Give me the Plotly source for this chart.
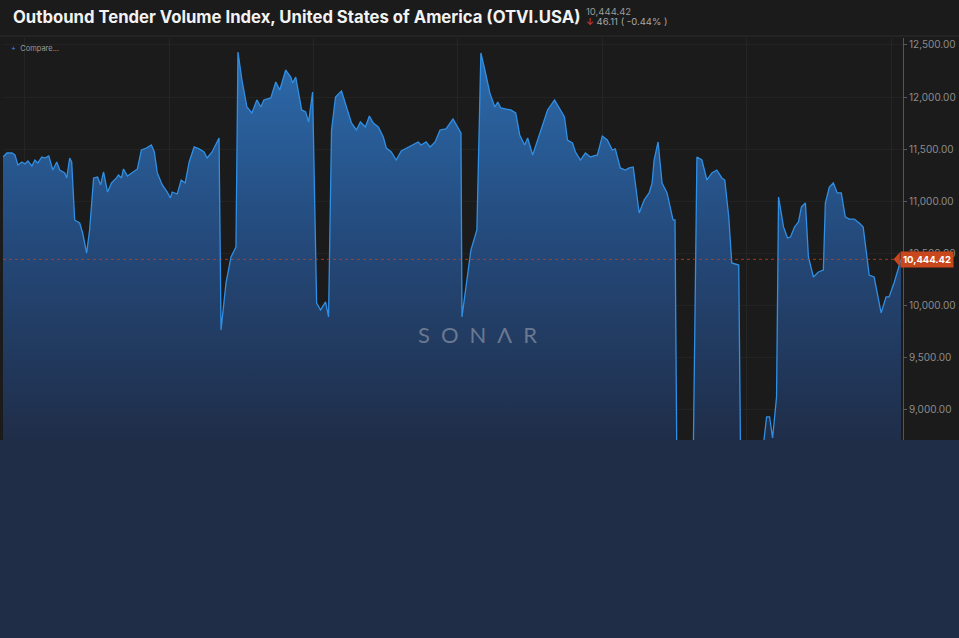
import plotly.graph_objects as go

# ---- data ----
day = [0, 4, 9, 12, 15, 19, 22, 25, 29, 32, 35, 39, 42, 46, 50, 54, 57, 62, 64, 67, 69,
       72, 77, 80, 84, 87, 91, 95, 98, 101, 105, 109, 114, 116, 119, 121, 125, 130, 135,
       139, 144, 149, 152, 155, 160, 165, 168, 170, 175, 179, 183, 187, 192, 197, 202, 205,
       210, 217, 219, 224, 229, 234, 236, 240, 245, 250, 255, 259, 262, 269, 274, 278, 284,
       289, 291, 294, 300, 304, 307, 311, 315, 319, 324, 327, 330, 334, 340, 345, 350, 355,
       359, 364, 368, 372, 377, 382, 385, 390, 395, 400, 407, 412, 417, 420, 425, 429, 434,
       439, 445, 452, 457, 460, 461, 465, 470, 476, 480, 484, 489, 494, 497, 500, 505, 510,
       515, 519, 524, 527, 532, 537, 542, 547, 554, 560, 564, 567, 572, 575, 580, 585, 590,
       597, 602, 607, 612, 615, 620, 625, 629, 633, 639, 644, 649, 652, 654, 658, 662, 667,
       670, 673, 675, 677, 685, 693, 697, 702, 707, 712, 717, 722, 725, 729, 732, 739, 741,
       749, 757, 764, 767, 770, 773, 777, 779, 784, 788, 791, 795, 799, 802, 806, 809, 814,
       819, 824, 826, 830, 834, 838, 842, 846, 850, 855, 860, 864, 870, 875, 882, 887, 890,
       895, 902]
otvi = [11426, 11464, 11464, 11445, 11349, 11378, 11359, 11388, 11340, 11397, 11369, 11426,
        11416, 11436, 11301, 11378, 11301, 11273, 11225, 11416, 11378, 10822, 10793, 10697,
        10505, 10726, 11225, 11234, 11158, 11282, 11090, 11177, 11225, 11253, 11225, 11311,
        11244, 11282, 11311, 11493, 11512, 11541, 11474, 11273, 11158, 11090, 11033, 11090,
        11071, 11205, 11177, 11378, 11522, 11503, 11474, 11416, 11474, 11608, 9767, 10218,
        10467, 10563, 12433, 12164, 11905, 11848, 11973, 11905, 11973, 11992, 12145, 12068,
        12260, 12193, 12136, 12193, 11877, 11858, 11762, 12049, 10026, 9959, 10036, 9892,
        11685, 12001, 12059, 11905, 11752, 11685, 11762, 11714, 11819, 11752, 11714, 11618,
        11512, 11474, 11397, 11484, 11522, 11541, 11570, 11541, 11570, 11522, 11570, 11685,
        11695, 11790, 11714, 11656, 9892, 10180, 10534, 10726, 12423, 12260, 12040, 11905,
        11953, 11896, 11886, 11877, 11848, 11637, 11541, 11608, 11445, 11589, 11714, 11877,
        11973, 11877, 11810, 11589, 11560, 11474, 11397, 11464, 11426, 11445, 11627, 11589,
        11493, 11503, 11321, 11301, 11321, 11330, 10889, 11014, 11081, 11177, 11397, 11570,
        11177, 11081, 10947, 10822, 10822, 8300, 8250, 8300, 11426, 11397, 11205, 11273,
        11301, 11225, 11205, 10851, 10410, 10390, 8400, 8300, 8350, 8680, 8933, 8933, 8731,
        9125, 11042, 10755, 10649, 10659, 10755, 10803, 10947, 10985, 10467, 10275, 10323,
        10342, 10985, 11138, 11177, 11081, 11081, 10851, 10831, 10831, 10793, 10755, 10294,
        10275, 9930, 10084, 10084, 10218, 10444.42]

last_value = 10444.42
change_abs = 46.11
change_pct = -0.44
y_ticks = [9000, 9500, 10000, 10500, 11000, 11500, 12000, 12500]
title_text = "Outbound Tender Volume Index, United States of America (OTVI.USA)"

BG = "#1b1b1b"
FONT = "Inter, Roboto, 'Noto Sans', sans-serif"

fig = go.Figure()
fig.add_trace(go.Scatter(
    x=day, y=otvi, mode="lines",
    line=dict(color="#2f8fe4", width=1.3),
    fill="tozeroy",
    fillgradient=dict(type="vertical", start=8700, stop=12500,
                      colorscale=[[0, "#1f2d48"], [0.5, "#24497a"], [1, "#2c6cae"]]),
    hoverinfo="skip", showlegend=False,
))

fig.update_layout(
    width=959, height=638,
    margin=dict(l=3, r=52, t=38, b=198),
    paper_bgcolor=BG, plot_bgcolor=BG,
    font=dict(family=FONT, color="#8c8c8c"),
    xaxis=dict(range=[0, 904], showticklabels=False, showgrid=True,
               gridcolor="#252525", tick0=22, dtick=145, zeroline=False,
               showline=False, fixedrange=True),
    yaxis=dict(range=[8712, 12567], side="right", tickvals=y_ticks,
               tickformat=",.2f", tickfont=dict(size=10, color="#8c8c8c"),
               ticks="outside", ticklen=3, tickcolor="#5a5a5a",
               showline=True, linecolor="#555555", linewidth=1,
               showgrid=True, gridcolor="#232323", zeroline=False),
)

shapes = [
    # header divider
    dict(type="line", xref="paper", yref="paper", x0=-0.01, x1=1.1,
         y0=1 + 2 / 402, y1=1 + 2 / 402, line=dict(color="#2c2c2c", width=1)),
    # last price dashed line
    dict(type="line", xref="paper", yref="y", x0=0, x1=0.99,
         y0=last_value, y1=last_value, line=dict(color="rgba(200,65,30,0.75)", width=1, dash="dot"),
         layer="above"),
    # pointer of price label
    dict(type="path", xref="paper", yref="y",
         path=f"M 0.9895,{last_value} L 0.9965,{last_value + 68} L 0.9965,{last_value - 68} Z",
         fillcolor="#c9471d", line=dict(width=0), layer="above"),
    # lower panel
    dict(type="rect", xref="paper", yref="paper", x0=-0.01, x1=1.1, y0=-0.6, y1=0,
         fillcolor="#1f2d46", line=dict(width=0), layer="above"),
]
fig.update_layout(shapes=shapes)

annotations = [
    dict(xref="paper", yref="paper", x=8 / 904, y=1 + 21 / 402, xanchor="left",
         yanchor="middle", showarrow=False, text=f"<b>{title_text}</b>",
         font=dict(size=16.7, color="#f2f2f2", family=FONT)),
    dict(xref="paper", yref="paper", x=584 / 904, y=1 + 26 / 402, xanchor="left",
         yanchor="middle", showarrow=False, text=f"{last_value:,.2f}",
         font=dict(size=9.5, color="#9a9a9a", family=FONT)),
    dict(xref="paper", yref="paper", x=584 / 904, y=1 + 16 / 402, xanchor="left",
         yanchor="middle", showarrow=False,
         text=f"<span style='color:#e0474a'>↓</span> {change_abs:.2f} ( {change_pct:.2f}% )",
         font=dict(size=9.5, color="#a8a8a8", family=FONT)),
    dict(xref="paper", yref="paper", x=6 / 904, y=1 - 10 / 402, xanchor="left",
         yanchor="middle", showarrow=False,
         text="<span style='color:#3a8fe0'>+</span>  Compare...",
         font=dict(size=7.5, color="#9a9a9a", family=FONT)),
    dict(xref="paper", yref="y", x=0.9965, y=last_value, xanchor="left", yanchor="middle",
         showarrow=False, text=f"<b>{last_value:,.2f}</b>", bgcolor="#c9471d",
         borderpad=2, font=dict(size=9.5, color="#ffffff", family=FONT)),
    dict(xref="paper", yref="paper", x=477 / 904, y=1 - 296 / 402, xanchor="center",
         yanchor="middle", showarrow=False,
         text="S\u2002O\u2002N\u2002Λ\u2002R",
         font=dict(size=22, color="#6a7890", family="Lato, sans-serif", weight=400)),
]
fig.update_layout(annotations=annotations)

fig.write_html("out.html",
               config={"displayModeBar": False},
               post_script="document.body.style.margin='0';document.body.style.background='#1f2d46';")
